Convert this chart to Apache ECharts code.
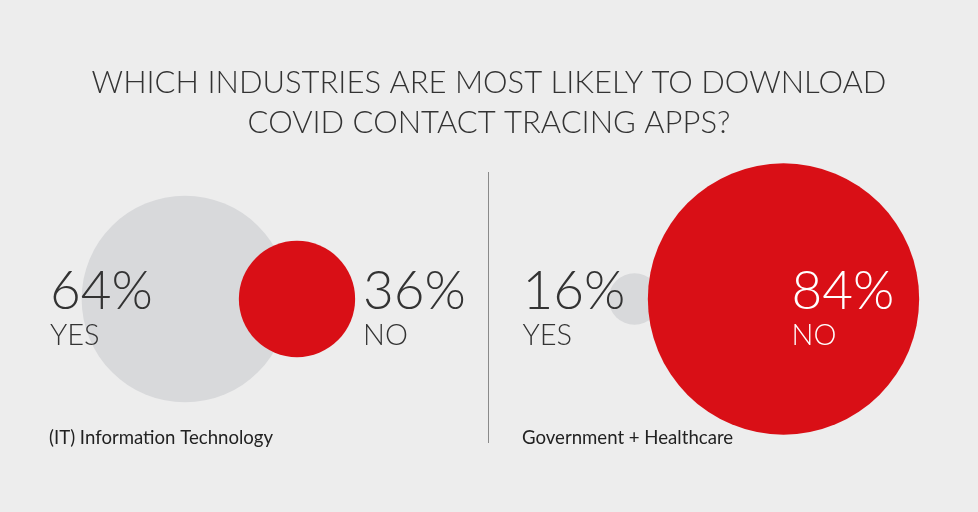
<!DOCTYPE html>
<html>
<head>
<meta charset="utf-8">
<script src="https://cdn.jsdelivr.net/npm/echarts@6/dist/echarts.min.js"></script>
<style>
  html, body { margin: 0; padding: 0; background: #ededed; }
  #main { width: 978px; height: 512px; }
</style>
</head>
<body>
<div id="main"></div>
<script>
var answers = ['YES', 'NO'];
var industries = ['(IT) Information Technology', 'Government + Healthcare'];
var itValues = [64, 36];
var govValues = [16, 84];

var GRAY = '#d8d9db';
var RED = '#d90f16';
var FONT = 'Lato';
var SCALE = 3.23; // circle diameter in px per percent

var myChart = echarts.init(document.getElementById('main'));

// label offsets (px from circle centre to label top-left)
function labelPos(dx, dy) {
    return function (v) {
        var r = v * SCALE / 2;
        return [dx + r, dy + r];
    };
}

function buildData(values, offsets, textColors) {
    return values.map(function (v, i) {
        return {
            value: [i, 0, v],
            itemStyle: { color: i === 0 ? GRAY : RED, opacity: 1 },
            label: {
                position: labelPos(offsets[i][0], offsets[i][1])(v),
                rich: {
                    p: { fontSize: 53, lineHeight: 56, fontWeight: 300, fontFamily: FONT, color: textColors[i] },
                    n: { fontSize: 29, lineHeight: 32, fontWeight: 300, fontFamily: FONT, color: textColors[i] }
                }
            }
        };
    });
}

function panelSeries(idx, values, offsets, textColors) {
    return {
        type: 'scatter',
        xAxisIndex: idx,
        yAxisIndex: idx,
        symbol: 'circle',
        symbolSize: function (v) { return v[2] * SCALE; },
        silent: true,
        label: {
            show: true,
            align: 'left',
            verticalAlign: 'top',
            formatter: function (p) {
                return '{p|' + p.value[2] + '%}\n{n|' + answers[p.dataIndex] + '}';
            }
        },
        data: buildData(values, offsets, textColors)
    };
}

option = {
    backgroundColor: '#ededed',
    animation: false,
    title: [
        {
            text: 'WHICH INDUSTRIES ARE MOST LIKELY TO DOWNLOAD\nCOVID CONTACT TRACING APPS?',
            left: 'center',
            top: 58,
            textStyle: {
                fontFamily: FONT,
                fontWeight: 300,
                fontSize: 31,
                lineHeight: 40,
                color: '#333',
                align: 'center'
            }
        },
        {
            text: industries[0],
            left: 44,
            top: 423,
            textStyle: { fontFamily: FONT, fontWeight: 400, fontSize: 18.6, color: '#222' }
        },
        {
            text: industries[1],
            left: 517,
            top: 423,
            textStyle: { fontFamily: FONT, fontWeight: 400, fontSize: 18.6, color: '#222' }
        }
    ],
    grid: [
        { left: 129, width: 224, top: 199, height: 200 },
        { left: 560, width: 298, top: 199, height: 200 }
    ],
    xAxis: [
        { type: 'category', gridIndex: 0, data: answers, boundaryGap: true, show: false },
        { type: 'category', gridIndex: 1, data: answers, boundaryGap: true, show: false }
    ],
    yAxis: [
        { type: 'value', gridIndex: 0, min: -1, max: 1, show: false },
        { type: 'value', gridIndex: 1, min: -1, max: 1, show: false }
    ],
    graphic: [
        {
            type: 'line',
            shape: { x1: 488.5, y1: 172, x2: 488.5, y2: 443 },
            style: { stroke: '#8a8a8a', lineWidth: 1 },
            silent: true
        }
    ],
    series: [
        panelSeries(0, itValues, [[-135, -35], [66, -35]], ['#333', '#333']),
        panelSeries(1, govValues, [[-112, -35], [8, -35]], ['#333', '#fff'])
    ]
};

myChart.setOption(option);
</script>
</body>
</html>
